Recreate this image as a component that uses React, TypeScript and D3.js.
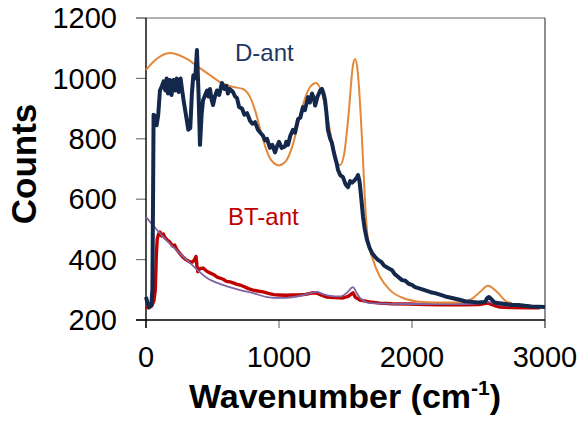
import React from "react";
import * as d3 from "d3";

const xTicks = [0, 1000, 2000, 3000];
const yTicks = [200, 400, 600, 800, 1000, 1200];

// D-ant measured spectrum [wavenumber, counts]
const dAnt: [number, number][] = [
  [0,276],[12,255],[25,243],[40,248],[48,300],[53,600],[57,880],[68,875],[80,845],[92,880],[105,960],[120,975],[132,990],[145,960],[155,1000],[165,950],[178,995],[192,945],[205,995],[218,960],[230,1000],[245,955],[260,1000],[272,960],[285,920],[300,880],[318,830],[333,835],[345,950],[356,1010],[370,1000],[383,1094],[395,950],[406,780],[418,880],[429,928],[445,945],[459,960],[470,940],[481,965],[493,930],[504,912],[518,940],[534,960],[550,945],[571,985],[590,965],[605,975],[616,950],[630,965],[654,955],[670,940],[684,935],[700,905],[722,900],[740,880],[760,885],[782,860],[800,850],[820,855],[842,830],[860,820],[880,810],[895,795],[910,800],[932,770],[950,780],[970,755],[985,775],[1000,790],[1020,770],[1045,775],[1055,790],[1068,780],[1085,810],[1105,830],[1120,820],[1143,865],[1160,870],[1180,905],[1195,895],[1218,938],[1232,920],[1248,950],[1262,935],[1272,910],[1290,940],[1310,960],[1323,965],[1335,950],[1346,928],[1358,880],[1368,829],[1385,800],[1398,786],[1410,760],[1421,740],[1433,720],[1444,697],[1460,680],[1481,673],[1500,650],[1519,640],[1535,660],[1550,655],[1571,664],[1585,672],[1594,680],[1605,660],[1615,620],[1632,541],[1645,500],[1662,465],[1680,440],[1699,422],[1720,410],[1744,399],[1770,392],[1790,380],[1820,372],[1850,365],[1870,352],[1890,345],[1925,332],[1950,330],[1975,320],[2000,316],[2023,309],[2060,304],[2100,298],[2140,292],[2173,289],[2210,284],[2250,278],[2301,273],[2350,268],[2400,262],[2450,260],[2500,258],[2549,260],[2565,272],[2579,276],[2600,268],[2620,258],[2647,256],[2700,253],[2750,250],[2797,250],[2850,247],[2900,245],[2950,244],[3000,243]
];

// BT-ant measured spectrum
const btAnt: [number, number][] = [
  [0,243],[20,240],[45,248],[60,265],[70,300],[78,420],[85,470],[95,485],[105,491],[118,478],[130,485],[143,472],[160,465],[180,458],[200,445],[215,448],[233,432],[255,420],[278,408],[300,400],[331,392],[350,392],[365,400],[376,410],[383,380],[390,360],[405,370],[429,372],[455,362],[481,356],[510,350],[535,342],[556,339],[580,335],[605,328],[632,326],[660,322],[685,318],[707,316],[740,310],[770,304],[805,299],[840,296],[880,293],[920,288],[960,284],[1000,283],[1050,282],[1100,283],[1150,283],[1200,285],[1250,290],[1285,289],[1320,282],[1360,276],[1420,274],[1481,273],[1520,278],[1556,290],[1575,275],[1609,266],[1680,260],[1759,256],[1850,254],[1985,253],[2100,251],[2250,250],[2383,250],[2500,251],[2571,256],[2620,248],[2662,243],[2760,241],[2865,240],[2960,240]
];

// D-ant simulated (orange)
const dAntSim: [number, number][] = [
  [0,1028],[68,1060],[180,1084],[293,1068],[406,1034],[500,1005],[556,988],[654,972],[729,965],[767,950],[820,895],[860,830],[900,770],[940,730],[1000,712],[1050,725],[1100,775],[1150,860],[1200,940],[1240,975],[1278,985],[1320,955],[1360,880],[1400,790],[1440,718],[1460,713],[1490,750],[1525,890],[1555,1040],[1572,1064],[1590,1030],[1624,800],[1647,590],[1669,465],[1707,399],[1759,343],[1835,299],[1932,273],[2083,260],[2250,258],[2383,260],[2450,270],[2511,293],[2571,313],[2639,293],[2714,260],[2752,256]
];

// BT-ant simulated (purple)
const btAntSim: [number, number][] = [
  [0,541],[83,498],[203,442],[331,389],[459,339],[579,316],[707,299],[805,289],[910,276],[1008,273],[1098,275],[1180,282],[1240,290],[1285,293],[1330,286],[1383,280],[1459,278],[1510,290],[1556,309],[1580,293],[1609,273],[1684,256],[2000,253],[2383,253],[2500,255],[2571,260],[2640,252],[2737,246]
];

const W = 582, H = 421;
const left = 146, right = 545, top = 18, bottom = 320;

export default function App() {
  const x = d3.scaleLinear().domain([0, 3000]).range([left, right]);
  const y = d3.scaleLinear().domain([200, 1200]).range([bottom, top]);
  const raw = d3.line<[number, number]>().x(d => x(d[0])).y(d => y(d[1]));
  const smooth = d3.line<[number, number]>().x(d => x(d[0])).y(d => y(d[1])).curve(d3.curveMonotoneX);
  const font = "'Liberation Sans', Arial, sans-serif";
  return (
    <svg width={W} height={H} style={{ position: "absolute", left: 0, top: 0 }} fontFamily={font}>
      <rect x={0} y={0} width={W} height={H} fill="#fff" />
      {/* frame */}
      <line x1={136} x2={right} y1={top} y2={top} stroke="#666" strokeWidth={1.2} />
      <line x1={right} x2={right} y1={top} y2={bottom + 8} stroke="#444" strokeWidth={1.2} />
      {yTicks.map(t => (
        <g key={t}>
          <line x1={136} x2={left} y1={y(t)} y2={y(t)} stroke="#777" strokeWidth={1.2} />
          <text x={117} y={y(t)} dy="0.355em" textAnchor="end" fontSize={29} fill="#000">{t}</text>
        </g>
      ))}
      {xTicks.map(t => (
        <g key={t}>
          <line x1={x(t)} x2={x(t)} y1={bottom} y2={bottom + 8} stroke="#777" strokeWidth={1.2} />
          <text x={x(t)} y={367} textAnchor="middle" fontSize={29} fill="#000">{t}</text>
        </g>
      ))}
      <line x1={left} x2={left} y1={top} y2={bottom + 8} stroke="#000" strokeWidth={1.4} />
      <line x1={136} x2={right} y1={bottom} y2={bottom} stroke="#000" strokeWidth={1.4} />

      <path d={raw(btAnt) || ""} fill="none" stroke="#C00000" strokeWidth={3.4} strokeLinejoin="round" />
      <path d={smooth(btAntSim) || ""} fill="none" stroke="#8064A2" strokeWidth={1.8} />
      <path d={smooth(dAntSim) || ""} fill="none" stroke="#E3883A" strokeWidth={2} />
      <path d={raw(dAnt) || ""} fill="none" stroke="#14284B" strokeWidth={4} strokeLinejoin="round" />

      <text x={235} y={61} fontSize={24} fill="#1F3864">D-ant</text>
      <text x={228} y={225} fontSize={24} fill="#C00000">BT-ant</text>

      <text transform={`translate(36,164) rotate(-90)`} textAnchor="middle" fontSize={35} fontWeight="bold" fill="#000">Counts</text>
      <text x={345} y={408} textAnchor="middle" fontSize={34} fontWeight="bold" fill="#000">
        Wavenumber (cm<tspan dy={-13} fontSize={21}>-1</tspan><tspan dy={13}>)</tspan>
      </text>
    </svg>
  );
}
